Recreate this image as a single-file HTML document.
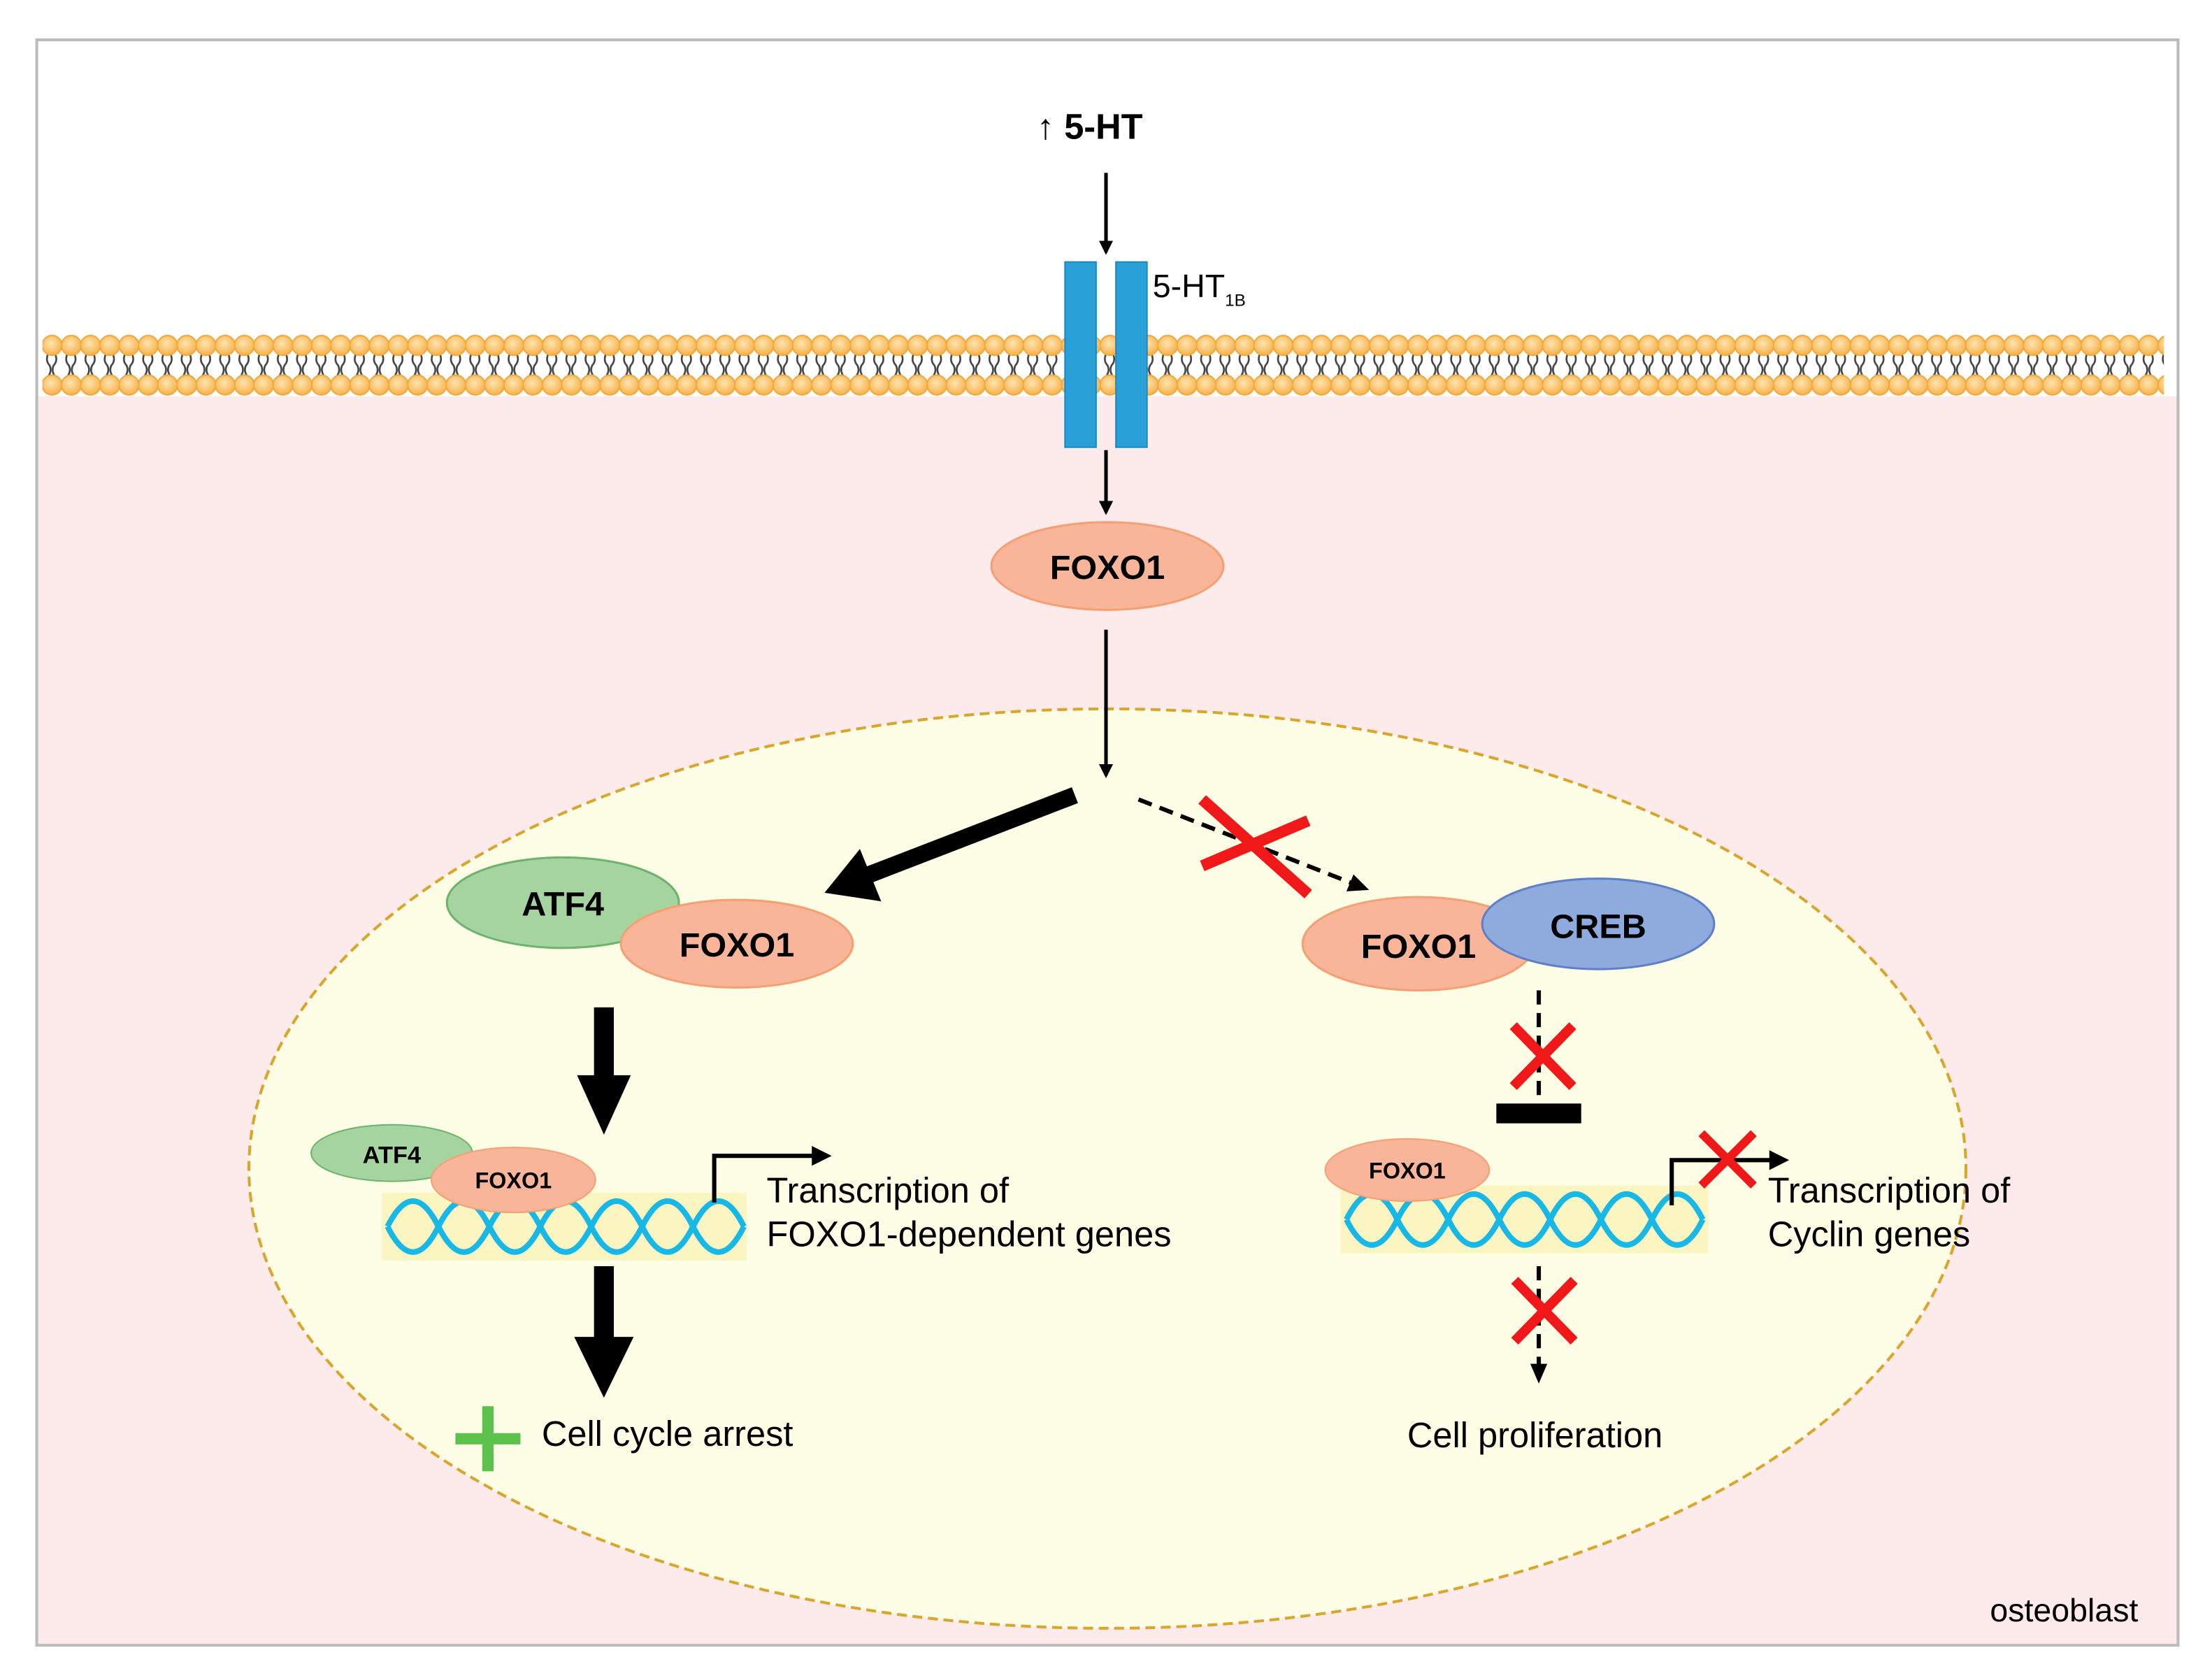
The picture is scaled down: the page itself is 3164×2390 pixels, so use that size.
<!DOCTYPE html>
<html><head><meta charset="utf-8"><style>html,body{margin:0;padding:0;background:#fff}svg{display:block}</style></head>
<body>
<svg width="3164" height="2390" viewBox="0 0 1564 1181" xmlns="http://www.w3.org/2000/svg" font-family="Liberation Sans, Arial, sans-serif">
<defs>
<radialGradient id="hg" cx="0.45" cy="0.4" r="0.6"><stop offset="0" stop-color="#fde4b0"/><stop offset="1" stop-color="#f8b24a"/></radialGradient>
<pattern id="mem" x="30" y="230" width="13.6" height="56" patternUnits="userSpaceOnUse">
<path d="M4,20 q-2,5 1,8 q2,4 -1,8 M9,20 q2,5 -1,8 q-2,4 1,8" stroke="#444" stroke-width="1.3" fill="none"/>
<circle cx="6.8" cy="14" r="7" fill="url(#hg)" stroke="#f2a73a" stroke-width="1"/>
<circle cx="6.8" cy="42" r="7" fill="url(#hg)" stroke="#f2a73a" stroke-width="1"/>
</pattern>
<marker id="ah" markerWidth="10" markerHeight="10" refX="8" refY="5" orient="auto" markerUnits="userSpaceOnUse"><path d="M0,0 L10,5 L0,10z" fill="#000"/></marker>
</defs>
<rect x="0" y="0" width="1564" height="1181" fill="#fff"/>
<rect x="27" y="280" width="1512" height="882" fill="#fdeaea"/>
<rect x="26" y="28" width="1514" height="1135" fill="none" stroke="#bbb" stroke-width="2"/>
<rect x="30" y="230" width="1500" height="56" fill="url(#mem)"/>
<rect x="753" y="185" width="22" height="131" fill="#2aa0d8" stroke="#1b88c0"/>
<rect x="789" y="185" width="22" height="131" fill="#2aa0d8" stroke="#1b88c0"/>
<text x="733" y="98" font-size="25" font-weight="bold">↑ 5-HT</text>
<text x="815" y="210" font-size="23">5-HT<tspan font-size="12" dy="6">1B</tspan></text>
<line x1="782" y1="122" x2="782" y2="178" stroke="#000" stroke-width="2.5" marker-end="url(#ah)"/>
<line x1="782" y1="318" x2="782" y2="362" stroke="#000" stroke-width="2.5" marker-end="url(#ah)"/>
<ellipse cx="783" cy="400" rx="82" ry="31" fill="#f9b59a" stroke="#f5a070" stroke-width="1.5"/>
<text x="783" y="409" font-size="24" font-weight="bold" text-anchor="middle">FOXO1</text>
<ellipse cx="783" cy="826" rx="607" ry="325" fill="#fefde6" stroke="#d9a52a" stroke-width="2" stroke-dasharray="7,4"/>
<line x1="782" y1="445" x2="782" y2="548" stroke="#000" stroke-width="2.5" marker-end="url(#ah)"/>
<line x1="760" y1="562" x2="615" y2="618" stroke="#000" stroke-width="12"/>
<path d="M583,631 L608,600 L623,637z" fill="#000"/>
<line x1="805" y1="565" x2="958" y2="625" stroke="#000" stroke-width="3" stroke-dasharray="10,6"/>
<path d="M968,629 L952,630 L957,618z" fill="#000"/>
<path d="M850,565 L925,632 M850,612 L925,580" stroke="#f01818" stroke-width="8"/>
<ellipse cx="398" cy="638" rx="82" ry="32" fill="#a5d4a0" stroke="#6cb46c" stroke-width="1.5"/>
<ellipse cx="521" cy="667" rx="82" ry="31" fill="#f9b59a" stroke="#f5a070" stroke-width="1.5"/>
<text x="398" y="647" font-size="24" font-weight="bold" text-anchor="middle">ATF4</text>
<text x="521" y="676" font-size="24" font-weight="bold" text-anchor="middle">FOXO1</text>
<ellipse cx="1003" cy="667" rx="82" ry="33" fill="#f9b59a" stroke="#f5a070" stroke-width="1.5"/>
<ellipse cx="1130" cy="653" rx="82" ry="32" fill="#8faadc" stroke="#5f80c8" stroke-width="1.5"/>
<text x="1003" y="677" font-size="24" font-weight="bold" text-anchor="middle">FOXO1</text>
<text x="1130" y="663" font-size="24" font-weight="bold" text-anchor="middle">CREB</text>
<rect x="420" y="712" width="14" height="50" fill="#000"/>
<path d="M408,760 L446,760 L427,802z" fill="#000"/>
<rect x="420" y="895" width="14" height="52" fill="#000"/>
<path d="M406,945 L448,945 L427,988z" fill="#000"/>
<line x1="1088" y1="700" x2="1088" y2="780" stroke="#000" stroke-width="3" stroke-dasharray="10,6"/>
<rect x="1058" y="780" width="60" height="14" fill="#000"/>
<path d="M1070,725 L1112,768 M1070,768 L1112,725" stroke="#f01818" stroke-width="7"/>
<rect x="270" y="843" width="258" height="48" fill="#fbf5c2"/>
<path d="M274,867 q18,-36 36,0 t36,0 t36,0 t36,0 t36,0 t36,0 t36,0" fill="none" stroke="#17b7e6" stroke-width="4"/>
<path d="M274,867 q18,36 36,0 t36,0 t36,0 t36,0 t36,0 t36,0 t36,0" fill="none" stroke="#17b7e6" stroke-width="4"/>
<ellipse cx="277" cy="815" rx="57" ry="20" fill="#a5d4a0" stroke="#6cb46c"/>
<ellipse cx="363" cy="834" rx="58" ry="23" fill="#f9b59a" stroke="#f5a070"/>
<text x="277" y="822" font-size="17" font-weight="bold" text-anchor="middle">ATF4</text>
<text x="363" y="840" font-size="16" font-weight="bold" text-anchor="middle">FOXO1</text>
<path d="M505,850 L505,817 L578,817" fill="none" stroke="#000" stroke-width="3"/>
<path d="M588,817 L574,810 L574,824z" fill="#000"/>
<text x="542" y="850" font-size="25">Transcription of</text>
<text x="542" y="881" font-size="25">FOXO1-dependent genes</text>
<path d="M345,994 L345,1040 M322,1017 L368,1017" stroke="#5cc24c" stroke-width="8"/>
<text x="383" y="1022" font-size="25">Cell cycle arrest</text>
<rect x="948" y="838" width="260" height="48" fill="#fbf5c2"/>
<path d="M952,862 q18,-36 36,0 t36,0 t36,0 t36,0 t36,0 t36,0 t36,0" fill="none" stroke="#17b7e6" stroke-width="4"/>
<path d="M952,862 q18,36 36,0 t36,0 t36,0 t36,0 t36,0 t36,0 t36,0" fill="none" stroke="#17b7e6" stroke-width="4"/>
<ellipse cx="995" cy="827" rx="58" ry="22" fill="#f9b59a" stroke="#f5a070"/>
<text x="995" y="833" font-size="16" font-weight="bold" text-anchor="middle">FOXO1</text>
<path d="M1182,852 L1182,820 L1255,820" fill="none" stroke="#000" stroke-width="3"/>
<path d="M1265,820 L1251,813 L1251,827z" fill="#000"/>
<path d="M1203,801 L1240,838 M1203,838 L1240,801" stroke="#f01818" stroke-width="6"/>
<text x="1250" y="850" font-size="25">Transcription of</text>
<text x="1250" y="881" font-size="25">Cyclin genes</text>
<line x1="1088" y1="895" x2="1088" y2="968" stroke="#000" stroke-width="3" stroke-dasharray="10,6"/>
<path d="M1088,978 L1082,964 L1094,964z" fill="#000"/>
<path d="M1071,905 L1113,948 M1071,948 L1113,905" stroke="#f01818" stroke-width="7"/>
<text x="995" y="1023" font-size="25">Cell proliferation</text>
<text x="1407" y="1146" font-size="23">osteoblast</text>
</svg>
</body></html>
